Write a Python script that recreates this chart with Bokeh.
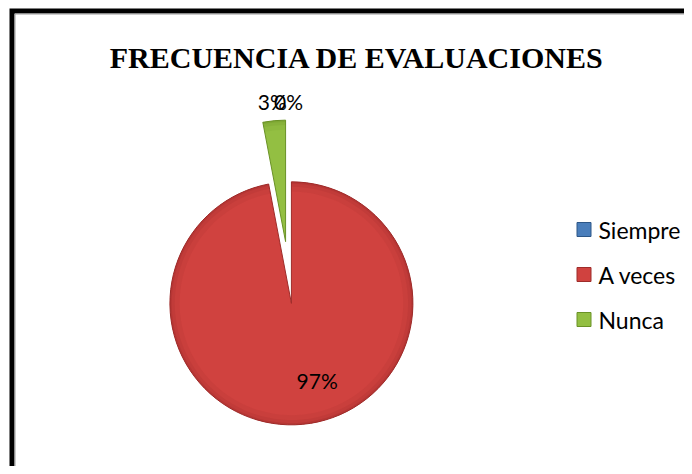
import math
from bokeh.plotting import figure
from bokeh.models import Range1d
from bokeh.embed import file_html
from bokeh.resources import INLINE
from bokeh.core.properties import value

# ---- data ----
title_text = "FRECUENCIA DE EVALUACIONES"
categories = ["Siempre", "A veces", "Nunca"]
percent = [0, 97, 3]
fill_colors = ["#4A7EBB", "#D0423F", "#93BF42"]
edge_colors = ["#2C5687", "#9E2C2A", "#6A9226"]

# ---- layout (image pixels) ----
W, H = 684, 466


def Y(py):
    return H - py


p = figure(width=W, height=H, x_range=Range1d(0, W), y_range=Range1d(0, H),
           output_backend="svg", toolbar_location=None,
           x_axis_location=None, y_axis_location=None,
           min_border=0, min_border_left=0, min_border_right=0,
           min_border_top=0, min_border_bottom=0)
p.grid.visible = False
p.outline_line_color = None
p.background_fill_color = "white"

# border (top and left visible, the rest is cut off by the window)
p.line([11.5, 11.5, 720], [-20, Y(10.5), Y(10.5)], line_color="black", line_width=5, line_join="miter")
p.line([14.5, 14.5, 720], [-20, Y(13.5), Y(13.5)], line_color="#9a9a9a", line_width=1, line_join="miter")

# title
p.text(x=[356.5], y=[Y(57)], text=[title_text], text_align="center", text_baseline="alphabetic",
       text_font=value("Liberation Serif"), text_font_style="bold", text_font_size="30px", text_color="black")

# pie
cx, cy = 288, Y(272)
R = 121.5
explode = 31
total = float(sum(percent))
cum = 0.0
lab_x, lab_y, lab_t = [], [], []
for cat, v, fc, ec in zip(categories, percent, fill_colors, edge_colors):
    f0 = cum / total
    cum += v
    f1 = cum / total
    mid = math.pi / 2 - 2 * math.pi * (f0 + f1) / 2
    ox = cx + explode * math.cos(mid)
    oy = cy + explode * math.sin(mid)
    start = math.pi / 2 - 2 * math.pi * f1
    end = math.pi / 2 - 2 * math.pi * f0
    if v > 0:
        p.wedge(x=[ox], y=[oy], radius=R, start_angle=start, end_angle=end,
                fill_color=fc, line_color=ec, line_width=1)
        for k, al in ((0.92, 0.12), (0.96, 0.18), (0.985, 0.3)):
            p.annular_wedge(x=[ox], y=[oy], inner_radius=R * k, outer_radius=R,
                            start_angle=start, end_angle=end,
                            fill_color=ec, fill_alpha=al, line_color=None)
    if f1 - f0 > 0.5:
        a = mid + math.radians(13)
        rl = 0.67 * R
        lab_x.append(ox + rl * math.cos(a))
        lab_y.append(oy + rl * math.sin(a))
    else:
        rl = explode + R + 19
        lab_x.append(cx + rl * math.cos(mid))
        lab_y.append(cy + rl * math.sin(mid))
    lab_t.append(f"{v}%")

p.text(x=lab_x, y=lab_y, text=lab_t, text_align="center", text_baseline="middle",
       text_font=value("Lato"), text_font_size="21px", text_color="black")

# legend
leg_x = 583.5
leg_y = [Y(229 + 45 * i) for i in range(len(categories))]
p.rect(x=[leg_x] * len(categories), y=leg_y, width=14, height=14,
       width_units="screen", height_units="screen",
       fill_color=fill_colors, line_color=edge_colors, line_width=1)
p.text(x=[leg_x + 14.5] * len(categories), y=leg_y, text=categories, text_align="left",
       text_baseline="middle", text_font=value("Lato"), text_font_size="23px", text_color="black")

open("out.html", "w").write(file_html(p, INLINE))
